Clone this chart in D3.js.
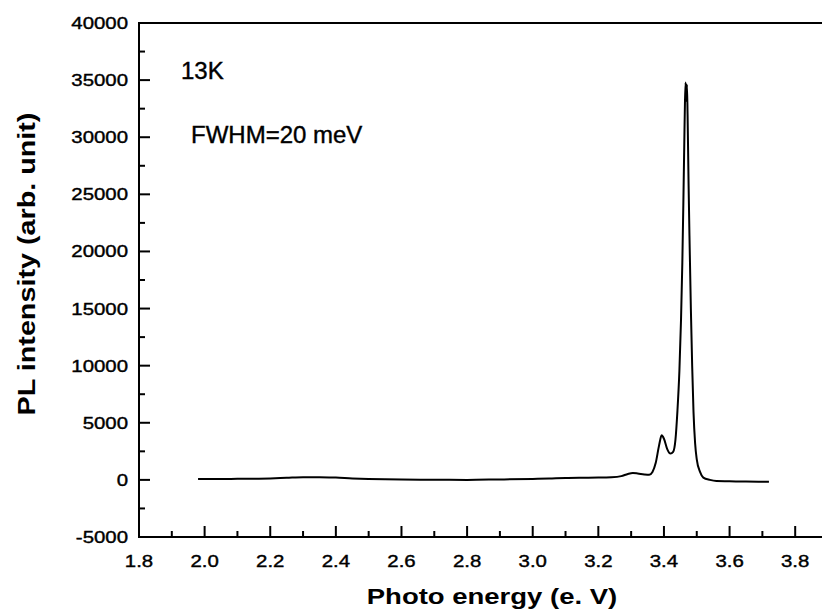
<!DOCTYPE html>
<html>
<head>
<meta charset="utf-8">
<script src="https://cdn.jsdelivr.net/npm/d3@7"></script>
<style>
  body { margin: 0; background: #fff; }
  svg { display: block; font-family: "Liberation Sans", Arial, sans-serif; }
</style>
</head>
<body>
<svg id="chart" width="822" height="614"></svg>
<script>
// PL spectrum at 13K
var energy = [1.98, 2.05, 2.10, 2.15, 2.20, 2.25, 2.30, 2.35, 2.40, 2.45, 2.50, 2.55, 2.60, 2.70, 2.80, 2.90,
  3.00, 3.05, 3.10, 3.15, 3.20, 3.24, 3.27, 3.29, 3.305, 3.32, 3.34, 3.355, 3.365, 3.375, 3.385, 3.393,
  3.40, 3.41, 3.42, 3.428, 3.435, 3.441, 3.447, 3.452, 3.456, 3.459, 3.462, 3.464, 3.466, 3.468, 3.470,
  3.472, 3.475, 3.478, 3.482, 3.486, 3.490, 3.495, 3.500, 3.510, 3.520, 3.540, 3.56, 3.60, 3.65, 3.72]
var intensity = [80, 70, 90, 100, 130, 180, 230, 240, 200, 130, 80, 50, 30, 10, 0, 40,
  80, 120, 170, 190, 200, 230, 330, 520, 600, 560, 480, 450, 700, 1500, 3000, 3900,
  3600, 2700, 2300, 2450, 3500, 6000, 9500, 14000, 19000, 24000, 29500, 33000, 34800, 33200, 34600,
  32000, 26000, 21000, 15000, 10000, 6000, 3200, 1800, 700, 200, 0, -100, -120, -150, -160]

var xTicks = [1.8, 2.0, 2.2, 2.4, 2.6, 2.8, 3.0, 3.2, 3.4, 3.6, 3.8]
var yTicks = [-5000, 0, 5000, 10000, 15000, 20000, 25000, 30000, 35000, 40000]
var notes = ["13K", "FWHM=20 meV"]

var svg = d3.select("#chart")
var x = d3.scaleLinear().domain([1.8, 3.9]).range([139, 828])
var y = d3.scaleLinear().domain([-5000, 40000]).range([537, 23])

var data = energy.map(function(e, i) { return {e: e, v: intensity[i]} })

// frame: left, bottom, top
svg.append("path")
  .attr("d", "M" + x(3.9) + "," + y(40000) + "H" + x(1.8) + "V" + y(-5000) + "H" + x(3.9))
  .attr("fill", "none").attr("stroke", "#000").attr("stroke-width", 2)

// x ticks (inward)
var xMinor = d3.range(19, 39).map(function(d) { return d / 10 })
svg.append("g").selectAll("line").data(xMinor).join("line")
  .attr("x1", function(d) { return x(d) }).attr("x2", function(d) { return x(d) })
  .attr("y1", y(-5000)).attr("y2", function(d, i) { return y(-5000) - (i % 2 ? 11 : 6) })
  .attr("stroke", "#000").attr("stroke-width", 2)

svg.append("g").selectAll("text").data(xTicks).join("text")
  .attr("transform", function(d) { return "translate(" + x(d) + ",567) scale(1.2,1)" })
  .attr("text-anchor", "middle").attr("font-size", 17)
  .attr("stroke", "#000").attr("stroke-width", 0.4)
  .text(function(d) { return d.toFixed(1) })

// y ticks (inward)
var yMinor = d3.range(-2500, 40000, 2500)
svg.append("g").selectAll("line").data(yMinor).join("line")
  .attr("x1", x(1.8)).attr("x2", function(d) { return x(1.8) + (d % 5000 === 0 ? 11 : 6) })
  .attr("y1", function(d) { return y(d) }).attr("y2", function(d) { return y(d) })
  .attr("stroke", "#000").attr("stroke-width", 2)

svg.append("g").selectAll("text").data(yTicks).join("text")
  .attr("transform", function(d) { return "translate(128," + (y(d) + 6) + ") scale(1.2,1)" })
  .attr("text-anchor", "end").attr("font-size", 17)
  .attr("stroke", "#000").attr("stroke-width", 0.4)
  .text(function(d) { return d })

// spectrum
var line = d3.line()
  .curve(d3.curveMonotoneX)
  .x(function(d) { return x(d.e) })
  .y(function(d) { return y(d.v) })

svg.append("path").datum(data)
  .attr("d", line)
  .attr("fill", "none").attr("stroke", "#000").attr("stroke-width", 2)

// axis titles
svg.append("text")
  .attr("transform", "translate(492,604) scale(1.25,1)")
  .attr("text-anchor", "middle").attr("font-size", 22).attr("font-weight", "bold")
  .text("Photo energy (e. V)")

svg.append("text")
  .attr("transform", "translate(35,264) rotate(-90) scale(1.25,1)")
  .attr("text-anchor", "middle").attr("font-size", 23).attr("font-weight", "bold")
  .text("PL intensity (arb. unit)")

// annotations
svg.append("text").attr("x", 181).attr("y", 79).attr("font-size", 24)
  .attr("stroke", "#000").attr("stroke-width", 0.4).text(notes[0])
svg.append("text").attr("x", 191).attr("y", 143).attr("font-size", 24)
  .attr("stroke", "#000").attr("stroke-width", 0.4).text(notes[1])
</script>
</body>
</html>
